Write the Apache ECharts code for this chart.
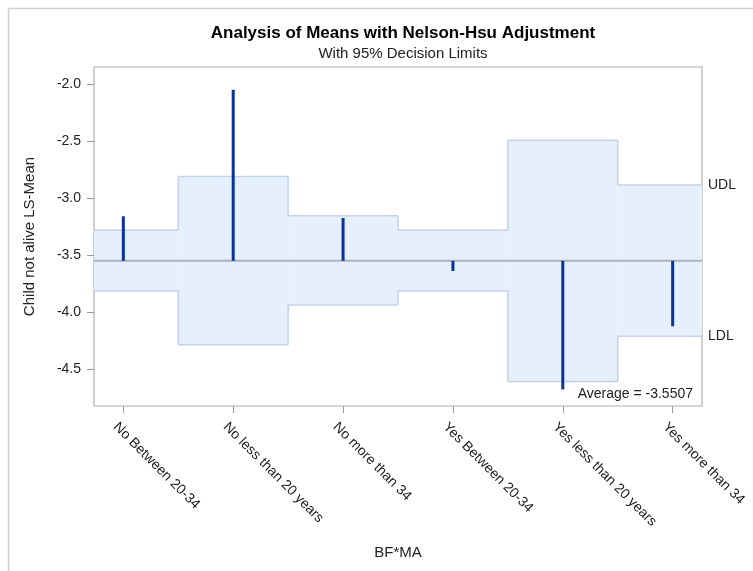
<!DOCTYPE html>
<html>
<head>
<meta charset="utf-8">
<script src="https://cdn.jsdelivr.net/npm/echarts@6/dist/echarts.min.js"></script>
<style>html,body{margin:0;padding:0;background:#fff;}#c{width:753px;height:571px;}</style>
</head>
<body>
<div id="c"></div>
<script>
var categories = ['No Between 20-34', 'No less than 20 years', 'No more than 34', 'Yes Between 20-34', 'Yes less than 20 years', 'Yes more than 34'];
var lsMeans = [-3.16, -2.05, -3.175, -3.64, -4.68, -4.125];
var udl = [-3.283, -2.812, -3.155, -3.283, -2.492, -2.886];
var ldl = [-3.815, -4.288, -3.938, -3.815, -4.611, -4.212];
var average = -3.5507;
var yTicks = [-4.5, -4.0, -3.5, -3.0, -2.5, -2.0];
var xTicks = [0, 1, 2, 3, 4, 5];

var FONT = 'Liberation Sans, Arial, sans-serif';
var chart = echarts.init(document.getElementById('c'), null, {renderer: 'canvas'});

var bandData = categories.map(function (c, i) { return [i, udl[i], ldl[i]]; });
var needleData = categories.map(function (c, i) { return [i, lsMeans[i]]; });

var option = {
  animation: false,
  backgroundColor: '#fff',
  title: [
    {
      text: 'Analysis of Means with Nelson-Hsu Adjustment',
      left: 398, top: 20, textAlign: 'center',
      textStyle: {fontFamily: FONT, fontSize: 17, fontWeight: 'bold', color: '#000'}
    },
    {
      text: 'With 95% Decision Limits',
      left: 398, top: 41, textAlign: 'center',
      textStyle: {fontFamily: FONT, fontSize: 15, fontWeight: 'normal', color: '#222'}
    }
  ],
  graphic: [
    {type: 'line', shape: {x1: 8.5, y1: 8.5, x2: 753, y2: 8.5}, style: {stroke: '#cfcfcf', lineWidth: 1.5}},
    {type: 'line', shape: {x1: 8.5, y1: 8.5, x2: 8.5, y2: 571}, style: {stroke: '#cfcfcf', lineWidth: 1.5}}
  ],
  grid: {
    left: 94, top: 67, right: 51, bottom: 165,
    show: true, borderColor: '#b0b0b0', borderWidth: 1.2, backgroundColor: 'transparent'
  },
  xAxis: {
    type: 'value', min: -0.267, max: 5.267,
    name: 'BF*MA', nameLocation: 'middle', nameGap: 139,
    nameTextStyle: {fontFamily: FONT, fontSize: 15, color: '#222'},
    axisLine: {show: false, onZero: false},
    splitLine: {show: false},
    axisTick: {show: true, length: 7, customValues: xTicks, lineStyle: {color: '#999'}},
    axisLabel: {
      customValues: xTicks, rotate: -45, margin: 11,
      verticalAlign: 'top', align: 'left', padding: [4, 0, 0, 0],
      fontFamily: FONT, fontSize: 14, color: '#222',
      formatter: function (v) { return categories[Math.round(v)]; }
    }
  },
  yAxis: {
    type: 'value', min: -4.825, max: -1.85,
    name: 'Child not alive LS-Mean', nameLocation: 'middle', nameGap: 57,
    nameTextStyle: {fontFamily: FONT, fontSize: 15, color: '#222'},
    axisLine: {show: false, onZero: false},
    splitLine: {show: false},
    axisTick: {show: true, length: 7, customValues: yTicks, lineStyle: {color: '#999'}},
    axisLabel: {
      customValues: yTicks, margin: 13,
      fontFamily: FONT, fontSize: 14, color: '#222',
      formatter: function (v) { return v.toFixed(1); }
    }
  },
  series: [
    {
      type: 'custom', z: 1, silent: true,
      data: bandData,
      renderItem: function (params, api) {
        var i = api.value(0);
        var cs = params.coordSys;
        var xa = api.coord([i - 0.5, average])[0];
        var xb = api.coord([i + 0.5, average])[0];
        var x0 = Math.max(xa, cs.x);
        var x1 = Math.min(xb, cs.x + cs.width);
        var yu = api.coord([i, api.value(1)])[1];
        var yl = api.coord([i, api.value(2)])[1];
        var stroke = '#c3d2e8';
        var children = [
          {type: 'rect', shape: {x: x0, y: yu, width: x1 - x0, height: yl - yu}, style: {fill: '#e6f0fd'}},
          {type: 'line', shape: {x1: x0, y1: yu, x2: x1, y2: yu}, style: {stroke: stroke, lineWidth: 1.5}},
          {type: 'line', shape: {x1: x0, y1: yl, x2: x1, y2: yl}, style: {stroke: stroke, lineWidth: 1.5}}
        ];
        if (i > 0) {
          var pu = api.coord([i, udl[i - 1]])[1];
          var pl = api.coord([i, ldl[i - 1]])[1];
          children.push({type: 'line', shape: {x1: x0, y1: pu, x2: x0, y2: yu}, style: {stroke: stroke, lineWidth: 1.5}});
          children.push({type: 'line', shape: {x1: x0, y1: pl, x2: x0, y2: yl}, style: {stroke: stroke, lineWidth: 1.5}});
        }
        if (i === categories.length - 1) {
          children.push({type: 'text', style: {text: 'UDL', x: cs.x + cs.width + 6, y: yu, verticalAlign: 'middle', fontFamily: FONT, fontSize: 14, fill: '#222'}});
          children.push({type: 'text', style: {text: 'LDL', x: cs.x + cs.width + 6, y: yl, verticalAlign: 'middle', fontFamily: FONT, fontSize: 14, fill: '#222'}});
          children.push({type: 'text', style: {text: 'Average = ' + average.toFixed(4), x: cs.x + cs.width - 9, y: cs.y + cs.height - 5, align: 'right', verticalAlign: 'bottom', fontFamily: FONT, fontSize: 14, fill: '#222'}});
        }
        return {type: 'group', children: children};
      }
    },
    {
      type: 'custom', z: 2, silent: true,
      data: [[average]],
      renderItem: function (params, api) {
        var cs = params.coordSys;
        var y = api.coord([0, api.value(0)])[1];
        return {type: 'line', shape: {x1: cs.x, y1: y, x2: cs.x + cs.width, y2: y}, style: {stroke: '#a9b2bf', lineWidth: 2}};
      }
    },
    {
      type: 'custom', z: 3, silent: true,
      data: needleData,
      renderItem: function (params, api) {
        var p0 = api.coord([api.value(0), average]);
        var p1 = api.coord([api.value(0), api.value(1)]);
        return {type: 'line', shape: {x1: p0[0], y1: p0[1], x2: p1[0], y2: p1[1]}, style: {stroke: '#0b3399', lineWidth: 3}};
      }
    }
  ]
};
chart.setOption(option);
</script>
</body>
</html>
